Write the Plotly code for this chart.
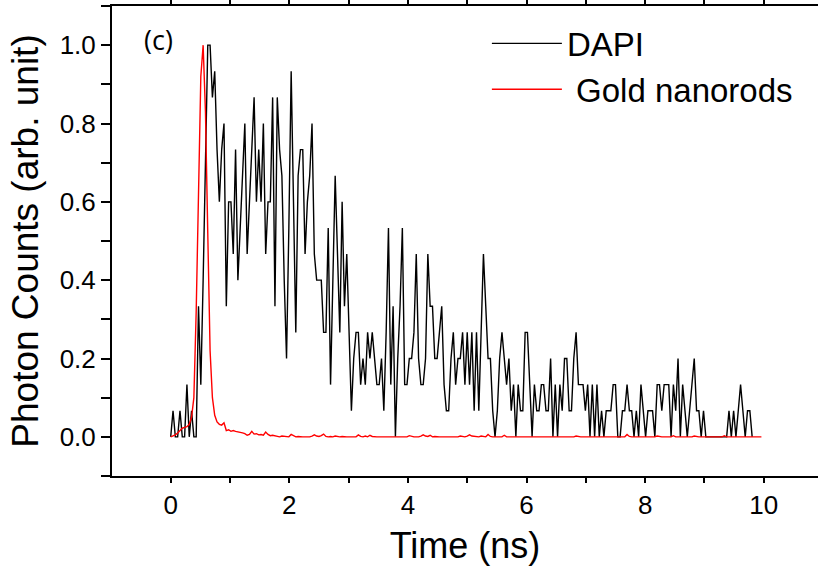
import plotly.graph_objects as go

# Time-correlated photon counts, 256 channels over 10 ns
BIN_NS = 10.0 / 256

# DAPI raw counts per channel (peak = 15 counts)
dapi_counts = [
    0, 1, 0, 0, 1, 0, 0, 2, 0, 1, 0, 0, 5, 2, 6, 10, 15, 15, 13, 14,
    11, 9, 11, 12, 5, 9, 9, 7, 11, 6, 8, 10, 12, 7, 9, 11, 13, 9, 11, 9,
    12, 7, 9, 9, 13, 5, 13, 11, 10, 6, 3, 8, 14, 9, 4, 10, 11, 11, 7, 9,
    10, 12, 7, 6, 6, 6, 4, 4, 8, 2, 6, 10, 7, 4, 9, 5, 7, 4, 1, 3,
    4, 4, 2, 3, 2, 4, 3, 4, 3, 2, 2, 3, 1, 4, 8, 2, 5, 0, 3, 5,
    8, 2, 2, 3, 3, 4, 7, 3, 2, 2, 3, 7, 5, 5, 3, 3, 4, 5, 2, 1,
    1, 3, 4, 2, 3, 3, 4, 2, 4, 2, 4, 1, 4, 1, 4, 7, 5, 3, 3, 1,
    0, 1, 3, 4, 3, 2, 3, 1, 2, 0, 2, 1, 1, 4, 4, 2, 0, 2, 1, 1,
    2, 2, 1, 1, 3, 0, 2, 0, 2, 1, 3, 3, 1, 1, 3, 4, 2, 2, 2, 1,
    2, 0, 2, 0, 2, 0, 1, 0, 1, 1, 1, 2, 2, 0, 0, 1, 1, 2, 1, 1,
    0, 1, 0, 2, 1, 0, 1, 1, 1, 0, 2, 2, 1, 2, 2, 2, 0, 2, 1, 3,
    0, 2, 1, 0, 1, 2, 3, 1, 1, 0, 1, 0, 0, 0, 0, 0, 0, 0, 0, 0,
    0, 1, 0, 1, 0, 1, 2, 1, 0, 1, 1, 0,
]
DAPI_MAX_COUNTS = 15

# Gold nanorods normalized signal per channel
gold = [
    0.000, 0.002, 0.005, 0.010, 0.015, 0.022, 0.024, 0.026, 0.032, 0.050,
    0.100, 0.320, 0.620, 0.920, 1.000, 0.830, 0.520, 0.220, 0.100, 0.055,
    0.038, 0.032, 0.030, 0.036, 0.016, 0.018, 0.014, 0.016, 0.014, 0.013,
    0.011, 0.010, 0.008, 0.004, 0.006, 0.014, 0.007, 0.008, 0.005, 0.006,
    0.004, 0.012, 0.006, 0.003, 0.004, 0.002, 0.001, 0.000, 0.002, 0.001,
    0.000, 0.000, 0.006, 0.002, 0.000, 0.001, 0.000, 0.000, 0.000, 0.000,
    0.000, 0.002, 0.005, 0.002, 0.001, 0.003, 0.007, 0.001, 0.000, 0.001,
    0.000, 0.002, 0.000, 0.000, 0.001, 0.000, 0.000, 0.000, 0.000, 0.001,
    0.000, 0.005, 0.001, 0.000, 0.002, 0.000, 0.004, 0.001, 0.000, 0.000,
    0.000, 0.000, 0.000, 0.000, 0.000, 0.001, 0.000, 0.000, 0.000, 0.000,
    0.000, 0.001, 0.000, 0.003, 0.001, 0.000, 0.000, 0.000, 0.002, 0.005,
    0.002, 0.001, 0.004, 0.000, 0.001, 0.000, 0.000, 0.000, 0.000, 0.000,
    0.001, 0.000, 0.000, 0.000, 0.000, 0.002, 0.001, 0.000, 0.002, 0.005,
    0.002, 0.001, 0.000, 0.000, 0.002, 0.000, 0.000, 0.006, 0.001, 0.000,
    0.000, 0.000, 0.001, 0.000, 0.004, 0.000, 0.000, 0.000, 0.000, 0.000,
    0.000, 0.000, 0.001, 0.000, 0.000, 0.000, 0.000, 0.000, 0.000, 0.000,
    0.000, 0.000, 0.000, 0.000, 0.000, 0.000, 0.000, 0.000, 0.000, 0.000,
    0.000, 0.000, 0.000, 0.000, 0.000, 0.002, 0.000, 0.000, 0.000, 0.000,
    0.000, 0.000, 0.000, 0.000, 0.000, 0.000, 0.000, 0.000, 0.000, 0.000,
    0.000, 0.000, 0.000, 0.000, 0.000, 0.000, 0.000, 0.006, 0.001, 0.000,
    0.000, 0.000, 0.000, 0.000, 0.000, 0.000, 0.000, 0.000, 0.000, 0.000,
    0.002, 0.000, 0.000, 0.000, 0.000, 0.000, 0.000, 0.003, 0.000, 0.000,
    0.000, 0.000, 0.000, 0.000, 0.000, 0.000, 0.002, 0.000, 0.000, 0.000,
    0.000, 0.000, 0.000, 0.000, 0.000, 0.000, 0.000, 0.000, 0.000, 0.003,
    0.000, 0.000, 0.000, 0.000, 0.000, 0.000, 0.000, 0.000, 0.000, 0.000,
    0.000, 0.000, 0.000, 0.000, 0.000, 0.000,
]

series_names = ["DAPI", "Gold nanorods"]
x_ticks = [0, 2, 4, 6, 8, 10]
y_ticks = [0.0, 0.2, 0.4, 0.6, 0.8, 1.0]

t_dapi = [i * BIN_NS for i in range(len(dapi_counts))]
y_dapi = [c / DAPI_MAX_COUNTS for c in dapi_counts]
t_gold = [i * BIN_NS for i in range(len(gold))]

AX_FONT = "Liberation Sans, Arial, sans-serif"

fig = go.Figure()
fig.add_trace(go.Scatter(x=t_dapi, y=y_dapi, mode="lines", name=series_names[0],
                         line=dict(color="black", width=1.4)))
fig.add_trace(go.Scatter(x=t_gold, y=gold, mode="lines", name="&nbsp;" + series_names[1],
                         line=dict(color="#ff0000", width=1.4)))

fig.update_layout(
    width=818, height=576,
    margin=dict(l=112, r=0, t=6, b=100),
    paper_bgcolor="white", plot_bgcolor="white",
    font=dict(family=AX_FONT, color="black"),
    legend=dict(x=0.531, y=0.98, xanchor="left", yanchor="top",
                font=dict(size=33, family=AX_FONT), bgcolor="rgba(0,0,0,0)",
                itemwidth=70, tracegroupgap=0),
    annotations=[dict(text="(c)", x=-0.2, y=1.015, xref="x", yref="y",
                      showarrow=False, font=dict(size=27, family="Open Sans, sans-serif"))],
)
fig.update_xaxes(
    range=[-0.99, 10.915], showgrid=False, zeroline=False,
    showline=True, linecolor="black", linewidth=2, mirror="ticks",
    tickmode="array", tickvals=x_ticks, ticktext=[str(v) for v in x_ticks],
    ticks="outside", ticklen=5, tickwidth=1.5, tickcolor="black",
    minor=dict(dtick=1, tick0=0, ticks="outside", ticklen=5, tickwidth=1.5, tickcolor="black"),
    tickfont=dict(size=26), title=dict(text="Time (ns)", font=dict(size=36), standoff=14),
)
fig.update_yaxes(
    range=[-0.1, 1.1], showgrid=False, zeroline=False,
    showline=True, linecolor="black", linewidth=2, mirror=False,
    tickmode="array", tickvals=y_ticks, ticktext=[f"{v:.1f}" for v in y_ticks],
    ticks="outside", ticklen=9, tickwidth=1.5, tickcolor="black",
    minor=dict(dtick=0.1, tick0=0, ticks="outside", ticklen=9, tickwidth=1.5, tickcolor="black"),
    tickfont=dict(size=26), title=dict(text="Photon Counts (arb. unit)", font=dict(size=37), standoff=10),
)

fig.write_html("out.html")
